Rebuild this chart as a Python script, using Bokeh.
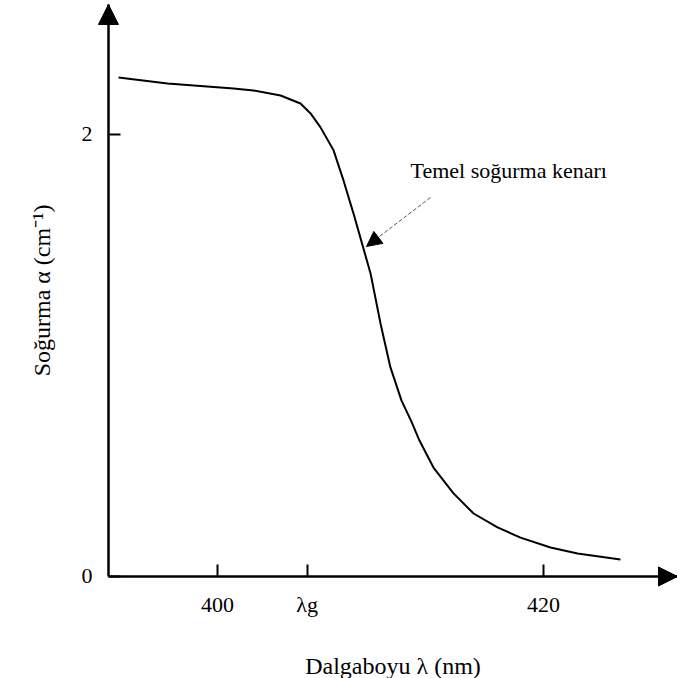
from bokeh.plotting import figure
from bokeh.models import FixedTicker, Arrow, NormalHead, Label, Range1d
from bokeh.embed import file_html
from bokeh.resources import INLINE

# ---- data ----
wavelength_nm = [393.93, 396.93, 400.98, 402.21, 403.87, 405.09, 405.71, 406.32, 407.12,
                 407.73, 408.34, 408.90, 409.39, 410.00, 410.61, 411.29, 411.90, 412.39,
                 413.25, 414.48, 415.71, 417.18, 418.59, 420.43, 422.09, 424.72]
absorption = [2.258, 2.231, 2.208, 2.199, 2.176, 2.140, 2.095, 2.032, 1.928,
              1.792, 1.643, 1.498, 1.371, 1.145, 0.946, 0.796, 0.701, 0.615,
              0.493, 0.376, 0.285, 0.222, 0.176, 0.131, 0.104, 0.077]

x_ticks = [400, 405.5, 420]
x_tick_labels = ["400", "λg", "420"]
y_ticks = [0, 2]
y_tick_labels = ["0", "2"]

annotation_text = "Temel soğurma kenarı"
x_title = "Dalgaboyu λ (nm)"
y_title = "Soğurma α (cm⁻¹)"

# axis extents (data units)
X0, X1 = 393.31, 428.22
Y1 = 2.588

SERIF = "Liberation Serif"

p = figure(width=677, height=678, output_backend="svg", toolbar_location=None,
           x_range=Range1d(386.687, 428.221), y_range=Range1d(-0.4615, 2.606),
           min_border_left=0, min_border_right=0, min_border_top=0,
           min_border_bottom=0)
p.outline_line_color = None
p.xgrid.visible = False
p.ygrid.visible = False
p.background_fill_color = "white"
p.border_fill_color = "white"

p.line(wavelength_nm, absorption, line_color="black", line_width=2)

for ax in (p.xaxis[0], p.yaxis[0]):
    ax.axis_line_color = "black"
    ax.axis_line_width = 2.5
    ax.major_tick_line_color = "black"
    ax.major_tick_line_width = 2
    ax.major_tick_in = 12
    ax.major_tick_out = 0
    ax.minor_tick_line_color = None
    ax.major_label_text_font = SERIF
    ax.major_label_text_font_size = "22px"
    ax.major_label_text_color = "black"
    ax.axis_label_text_font = SERIF
    ax.axis_label_text_font_size = "24px"
    ax.axis_label_text_font_style = "normal"
    ax.axis_label_text_color = "black"

xa = p.xaxis[0]
xa.fixed_location = 0
xa.bounds = (X0, X1)
xa.ticker = FixedTicker(ticks=x_ticks)
xa.major_label_overrides = {t: s for t, s in zip(x_ticks, x_tick_labels)}
xa.major_label_standoff = 16
xa.axis_label = x_title
xa.axis_label_standoff = 32

ya = p.yaxis[0]
ya.fixed_location = X0
ya.bounds = (0, Y1)
ya.ticker = FixedTicker(ticks=y_ticks)
ya.major_label_overrides = {t: s for t, s in zip(y_ticks, y_tick_labels)}
ya.major_label_standoff = 16
ya.major_label_orientation = "horizontal"
ya.axis_label = y_title
ya.axis_label_standoff = 24

# arrow heads on the axes
p.add_layout(Arrow(end=NormalHead(size=19, fill_color="black", line_color="black"),
                   x_start=X1 - 1.0, y_start=0, x_end=X1, y_end=0,
                   line_color="black", line_width=2.5))
p.add_layout(Arrow(end=NormalHead(size=20, fill_color="black", line_color="black"),
                   x_start=X0, y_start=Y1 - 0.08, x_end=X0, y_end=Y1,
                   line_color="black", line_width=2.5))

# annotation
p.add_layout(Arrow(end=NormalHead(size=15, fill_color="black", line_color="black"),
                   x_start=413.07, y_start=1.715, x_end=409.14, y_end=1.493,
                   line_color="#555555", line_width=1, line_dash="4 2"))
p.add_layout(Label(x=411.84, y=1.837, text=annotation_text, text_font=SERIF,
                   text_font_size="22px", text_baseline="middle", text_color="black"))

open("out.html", "w").write(file_html(p, INLINE))
